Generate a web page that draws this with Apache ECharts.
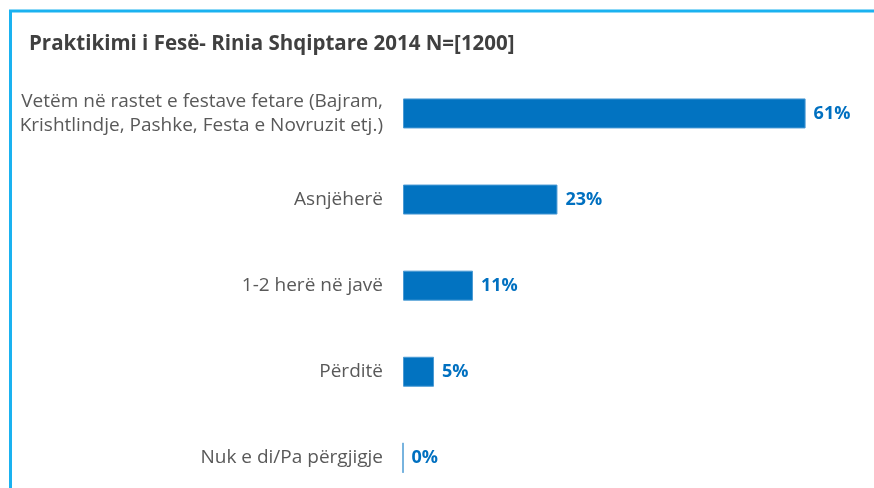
<!DOCTYPE html>
<html><head><meta charset="utf-8">
<script src="https://cdn.jsdelivr.net/npm/echarts@6/dist/echarts.min.js"></script>
<style>html,body{margin:0;padding:0;background:#fff;overflow:hidden}#c{width:874px;height:520px}</style>
</head><body><div id="c"></div>
<script>
const titleText = 'Praktikimi i Fesë- Rinia Shqiptare 2014 N=[1200]';
const categories = [
  'Vetëm në rastet e festave fetare (Bajram,\nKrishtlindje, Pashke, Festa e Novruzit etj.)',
  'Asnjëherë',
  '1-2 herë në javë',
  'Përditë',
  'Nuk e di/Pa përgjigje'
];
const values = [61, 23.4, 10.6, 4.7, 0];

const chart = echarts.init(document.getElementById('c'), null, {renderer: 'canvas'});
chart.setOption({
  animation: false,
  backgroundColor: '#ffffff',
  title: {
    text: titleText,
    left: 24, top: 29,
    textStyle: {fontFamily: 'Open Sans', fontWeight: 'bold', fontSize: 20.5, color: '#404040'}
  },
  graphic: [{
    type: 'rect', silent: true,
    shape: {x: 10.5, y: 11, width: 900, height: 600},
    style: {fill: 'none', stroke: '#1AB2F0', lineWidth: 3}
  }],
  grid: {left: 403, top: 70.4, width: 429, height: 430.5, containLabel: false},
  xAxis: {
    type: 'value', min: 0, max: 65, show: false
  },
  yAxis: {
    type: 'category', inverse: true, data: categories,
    axisLine: {show: false}, axisTick: {show: false},
    axisLabel: {
      margin: 20, fontFamily: 'Open Sans', fontSize: 19, color: '#595959',
      align: 'right', lineHeight: 24
    }
  },
  series: [{
    type: 'bar', data: values, barWidth: 30,
    itemStyle: {color: '#0273C1', borderColor: '#4A9AD4', borderWidth: 1},
    label: {
      show: true, position: 'right', distance: 8,
      fontFamily: 'Open Sans', fontWeight: 'bold', fontSize: 18, color: '#0070C0',
      formatter: p => Math.round(p.value) + '%'
    }
  }]
});
</script></body></html>
